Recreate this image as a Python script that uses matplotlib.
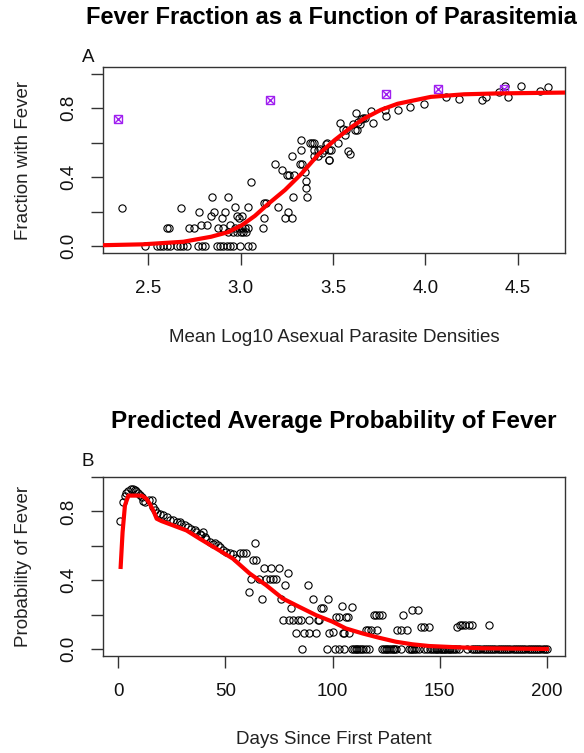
import numpy as np
import matplotlib
matplotlib.use("Agg")
import matplotlib.pyplot as plt

plt.rcParams['font.family'] = ['Liberation Sans', 'DejaVu Sans']

# ---- panel A data: mean log10 density vs fraction with fever ----
dens_x = [2.36, 2.48,
          2.546, 2.564, 2.582, 2.60, 2.618, 2.654, 2.672, 2.69, 2.708, 2.771, 2.789, 2.807,
          2.87, 2.888, 2.906, 2.924, 2.942, 2.96, 2.996, 3.042, 3.06,
          2.60, 2.61, 2.72, 2.75, 2.785, 2.816, 2.88, 2.906, 2.94, 2.97, 2.99, 3.005, 3.023, 3.042, 3.12,
          2.93, 2.96, 2.98, 3.0, 3.015, 3.03,
          2.677, 2.777, 2.84, 2.858, 2.897, 2.915, 2.97, 2.98, 2.99, 3.005, 3.04, 3.126, 3.2, 3.24,
          3.254, 3.28, 3.126, 3.14,
          2.843, 2.93, 3.056, 3.185, 3.225, 3.25, 3.26, 3.29, 3.285, 3.28, 3.326, 3.326, 3.32, 3.33,
          3.35, 3.355, 3.355, 3.36, 3.375, 3.385, 3.40, 3.40, 3.42, 3.43, 3.44, 3.45, 3.46, 3.47,
          3.48, 3.476, 3.48, 3.40, 3.42,
          3.49, 3.53, 3.54, 3.555, 3.565, 3.573, 3.582, 3.59, 3.609, 3.618, 3.632, 3.636, 3.645,
          3.654, 3.663, 3.672, 3.627, 3.708, 3.717, 3.785, 3.78, 3.85, 3.915, 3.993, 4.114, 4.185,
          4.31, 4.33, 4.40, 4.43, 4.447, 4.52, 4.623, 4.667]
dens_y = [0.22, 0.0,
          0, 0, 0, 0, 0, 0, 0, 0, 0, 0, 0, 0,
          0, 0, 0, 0, 0, 0, 0, 0, 0,
          0.106, 0.106, 0.106, 0.106, 0.12, 0.12, 0.106, 0.106, 0.12, 0.106, 0.106, 0.106, 0.106, 0.106, 0.106,
          0.083, 0.083, 0.083, 0.083, 0.083, 0.083,
          0.218, 0.195, 0.176, 0.195, 0.16, 0.195, 0.228, 0.176, 0.164, 0.176, 0.228, 0.16, 0.228, 0.164,
          0.195, 0.164, 0.247, 0.247,
          0.284, 0.284, 0.373, 0.473, 0.44, 0.41, 0.41, 0.41, 0.284, 0.52, 0.615, 0.556, 0.473, 0.473,
          0.43, 0.377, 0.334, 0.284, 0.6, 0.6, 0.6, 0.556, 0.556, 0.565, 0.537, 0.556, 0.59, 0.595,
          0.556, 0.5, 0.5, 0.52, 0.52,
          0.556, 0.6, 0.715, 0.678, 0.643, 0.672, 0.552, 0.532, 0.707, 0.672, 0.672, 0.72, 0.707,
          0.734, 0.74, 0.744, 0.77, 0.784, 0.715, 0.755, 0.79, 0.787, 0.804, 0.821, 0.862, 0.852,
          0.846, 0.866, 0.891, 0.928, 0.862, 0.928, 0.9, 0.92]

# purple group means
grp_x = [2.334, 3.158, 3.79, 4.07, 4.425]
grp_y = [0.735, 0.846, 0.88, 0.91, 0.91]

# fitted curve
fit_x = [2.256, 2.47, 2.69, 2.84, 2.93, 3.005, 3.077, 3.15, 3.24, 3.33, 3.42, 3.51, 3.6,
         3.67, 3.76, 3.85, 3.94, 4.03, 4.21, 4.39, 4.757]
fit_y = [0.005, 0.01, 0.025, 0.054, 0.08, 0.12, 0.175, 0.245, 0.325, 0.42, 0.53, 0.615, 0.69,
         0.74, 0.79, 0.825, 0.845, 0.865, 0.88, 0.885, 0.89]

# ---- panel B data: days since first patent vs probability ----
day_x = [0.8, 2, 3.1, 3.6, 4.7, 5.8, 7, 7.8, 8.2, 9.3, 10.1, 10.9, 11.6, 12.4,
         14.4, 15.5, 16.3, 17.1, 17.9, 19.4, 20.9, 22.5, 24.0, 25.6, 27.2, 28.7, 29.5, 31.0,
         32.6, 34.1, 35.7, 36.5, 38.0, 38.8, 39.5, 40.3, 41.1, 42.6, 44.2, 45.0, 46.5, 47.3,
         48.8, 50.4, 52.0, 53.5, 55.1, 56.6, 58.1, 59.7,
         64.0, 62.8, 64.4, 68.2, 71.3, 75.2, 62, 65.9, 69, 70.6, 72.1, 73.7, 79.1, 78, 60.9,
         67.2, 76, 88.4, 91, 97.9, 80.6, 94.6, 95.7, 104.2,
         76.7, 79.9, 81.4, 83.7, 85.3, 89.2, 93, 93.8, 101.6, 102.8, 106.5,
         83, 86.8, 89.2, 92.3, 98.5, 100, 105.4,
         85.8, 97.2, 101.3, 105.4,
         109, 107, 104.7, 107.8,
         119.4, 120.5, 121.7, 123, 132.9, 136.9, 140,
         115.5, 116.7, 117.9, 120.9, 130.2, 131.8, 134.9,
         141.1, 142.7, 145, 158.1, 159.3, 160.5, 162, 163.6, 165.1, 172.9,
         103.1, 109.3, 110.1, 110.9, 111.6, 112.4, 113.2, 114, 115.5, 117.1, 123.3, 124.1, 124.8,
         125.6, 126.4, 127.2, 128, 128.8, 129.5, 131.8, 135.7, 136.5, 137.2, 138, 138.8, 140.3,
         142.6, 144.2, 145.7, 146.5, 147.3, 148.1, 148.9, 149.6, 150.4, 151.2, 152, 152.7, 153.5,
         154.3, 155, 155.8, 156.6, 157.4, 158.9, 162.8, 165.1, 166, 167, 168, 169, 170, 171, 172,
         173, 174, 175, 176, 177, 178, 179, 180, 181, 182, 183, 184, 185, 186, 187, 188, 189, 190,
         191, 192, 193, 194, 195, 196, 197, 198, 199, 200]
day_y = [0.742, 0.853, 0.892, 0.91, 0.92, 0.93, 0.93, 0.923, 0.916, 0.91, 0.898, 0.882, 0.863, 0.853,
         0.864, 0.864, 0.825, 0.806, 0.792, 0.786, 0.777, 0.767, 0.752, 0.748, 0.738, 0.738, 0.729, 0.719,
         0.709, 0.70, 0.69, 0.68, 0.671, 0.661, 0.68, 0.651, 0.642, 0.622, 0.613, 0.617, 0.603, 0.593,
         0.574, 0.565, 0.559, 0.555, 0.532, 0.559, 0.559, 0.559,
         0.617, 0.52, 0.516, 0.474, 0.474, 0.474, 0.41, 0.41, 0.41, 0.41, 0.41, 0.41, 0.443, 0.376, 0.333,
         0.289, 0.289, 0.376, 0.289, 0.289, 0.237, 0.237, 0.237, 0.25,
         0.169, 0.169, 0.169, 0.169, 0.169, 0.169, 0.169, 0.169, 0.189, 0.189, 0.189,
         0.093, 0.093, 0.093, 0.093, 0.093, 0.1, 0.096,
         0, 0, 0, 0,
         0.246, 0.185, 0.096, 0.096,
         0.198, 0.198, 0.198, 0.198, 0.198, 0.227, 0.227,
         0.112, 0.112, 0.112, 0.112, 0.112, 0.112, 0.112,
         0.127, 0.127, 0.127, 0.127, 0.14, 0.14, 0.14, 0.14, 0.14, 0.14,
         0, 0, 0, 0, 0, 0, 0, 0, 0, 0, 0, 0, 0,
         0, 0, 0, 0, 0, 0, 0, 0, 0, 0, 0, 0, 0,
         0, 0, 0, 0, 0, 0, 0, 0, 0, 0, 0, 0, 0,
         0, 0, 0, 0, 0, 0, 0, 0, 0, 0, 0, 0, 0, 0, 0,
         0, 0, 0, 0, 0, 0, 0, 0, 0, 0, 0, 0, 0, 0, 0, 0, 0, 0,
         0, 0, 0, 0, 0, 0, 0, 0, 0, 0]

pred_x = [1.1, 2.0, 3.1, 4.7, 7.0, 10.9, 13.2, 14.7, 16.3, 17.9, 20.2, 25.6, 31.8, 38.0, 45.8,
          53.5, 61.3, 69.0, 76.7, 84.5, 92.3, 100.0, 106.2, 114.0, 121.7, 129.5, 137.2, 145.0,
          157.4, 169.8, 200.0]
pred_y = [0.478, 0.68, 0.835, 0.892, 0.892, 0.892, 0.873, 0.844, 0.806, 0.758, 0.744, 0.719,
          0.69, 0.642, 0.584, 0.526, 0.44, 0.372, 0.295, 0.246, 0.198, 0.16, 0.121, 0.092, 0.067,
          0.044, 0.029, 0.019, 0.012, 0.006, 0.002]

W, H = 584, 753


def fx(px):
    return px / W


def fy(py):
    return 1 - py / H


fig = plt.figure(figsize=(W / 100, H / 100), dpi=100)

axA = fig.add_axes([fx(103.3), fy(253.3), (565 - 103.3) / W, (253.3 - 66.7) / H])
axB = fig.add_axes([fx(103.3), fy(656), (565 - 103.3) / W, (656 - 477) / H])

ylabs = ['0.0', '', '0.4', '', '0.8', '']
yt = [0, 0.2, 0.4, 0.6, 0.8, 1.0]

for ax in (axA, axB):
    for s in ax.spines.values():
        s.set_color('#333333')
        s.set_linewidth(1.0)
    ax.tick_params(direction='out', length=8.5, width=1.0, color='#333333',
                   labelsize=13.5, labelcolor='#111111')
    ax.tick_params(axis='x', pad=11)
    ax.tick_params(axis='y', pad=10)
    ax.set_yticks(yt)
    ax.set_yticklabels(ylabs, rotation=90, va='center')

# panel A
axA.plot(dens_x, dens_y, 'o', mfc='none', mec='black', ms=5.2, mew=0.8, zorder=2)
axA.plot(grp_x, grp_y, 's', mfc='none', mec='#A020F0', ms=5.5, mew=1.0, zorder=3)
axA.plot(grp_x, grp_y, 'x', color='#A020F0', ms=5.5, mew=1.0, zorder=3)
axA.plot(fit_x, fit_y, '-', color='red', lw=3, zorder=4)
axA.set_xlim(2.256, 4.757)
axA.set_ylim(-0.042, 1.04)
axA.set_xticks([2.5, 3.0, 3.5, 4.0, 4.5])
axA.set_xticklabels(['2.5', '3.0', '3.5', '4.0', '4.5'])

# panel B
axB.plot(day_x, day_y, 'o', mfc='none', mec='black', ms=5.2, mew=0.8, zorder=2)
axB.plot(pred_x, pred_y, '-', color='red', lw=3, zorder=4)
axB.set_xlim(-7, 208.5)
axB.set_ylim(-0.039, 1.0)
axB.set_xticks([0, 50, 100, 150, 200])
axB.set_xticklabels(['0', '50', '100', '150', '200'])

# titles and labels
fig.text(fx(331), fy(18), 'Fever Fraction as a Function of Parasitemia',
         ha='center', va='center', fontsize=17, fontweight='bold')
fig.text(fx(334), fy(422), 'Predicted Average Probability of Fever',
         ha='center', va='center', fontsize=17.5, fontweight='bold')
fig.text(fx(88), fy(57), 'A', ha='center', va='center', fontsize=13.5, color='#111111')
fig.text(fx(88), fy(461), 'B', ha='center', va='center', fontsize=13.5, color='#111111')

fig.text(fx(334), fy(337), 'Mean Log10 Asexual Parasite Densities',
         ha='center', va='center', fontsize=13.5, color='#222222')
fig.text(fx(23.5), fy(160), 'Fraction with Fever', rotation=90,
         ha='center', va='center', fontsize=13.5, color='#222222')
fig.text(fx(334), fy(739.5), 'Days Since First Patent',
         ha='center', va='center', fontsize=13.5, color='#222222')
fig.text(fx(23.5), fy(566.5), 'Probability of Fever', rotation=90,
         ha='center', va='center', fontsize=13.5, color='#222222')

fig.savefig('out.png', dpi=100)
